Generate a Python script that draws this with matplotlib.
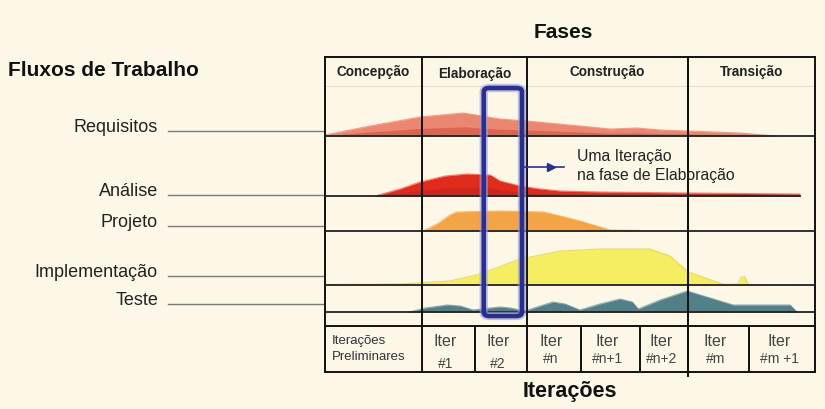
import matplotlib
matplotlib.use("Agg")
import matplotlib.pyplot as plt
from matplotlib.patches import FancyBboxPatch

plt.rcParams["font.family"] = ["Liberation Sans", "DejaVu Sans"]

BG = "#fcf7e6"

# timeline in percent of the project (0 = start, 100 = end)
phases = ["Concepção", "Elaboração", "Construção", "Transição"]
phase_edges = [0, 19.8, 41.2, 74.1, 100]

iter_labels = [("Iter", "#1"), ("Iter", "#2"), ("Iter", "#n"), ("Iter", "#n+1"),
               ("Iter", "#n+2"), ("Iter", "#m"), ("Iter", "#m +1")]
iter_edges = [19.8, 30.6, 41.2, 52.2, 64.3, 74.1, 86.5, 100]

workflows = ["Requisitos", "Análise", "Projeto", "Implementação", "Teste"]
label_y = [132, 196, 227, 277, 305]
baseline_y = [137, 197, 232, 286, 313]
line_end = [100, 97, 100, 100, 100]
colors = ["#eb8670", "#e02c1c", "#f2a447", "#f6ee62", "#52808a"]
under_colors = ["#d4503c", "#c8201a", "#f2a447", "#f6ee62", "#52808a"]
edge_colors = ["#c4533f", "#b81d12", "#d8832c", "#c8b83e", "#3c5f66"]

req_t = [0, 9.2, 19.4, 28.2, 35.7, 41.2, 52.0, 58.2, 63.7, 68.4, 74.1, 84.7, 92.2]
req_h = [1, 10, 19, 23, 17, 15, 10, 7, 8, 6, 5, 3, 0]

ana_t = [10.2, 15.3, 19.4, 24.5, 29.0, 33.7, 35.7, 39.8, 43.9, 48.0, 56.1, 74.1, 96.9]
ana_h = [0, 7, 14, 20, 22, 21, 15, 10, 7, 5, 4, 3, 2]

proj_t = [20.0, 22.9, 25.5, 26.9, 35.7, 44.5, 48.0, 52.0, 56.1, 58.2, 64.3]
proj_h = [0, 7, 16, 19, 20, 19, 15, 10, 4, 1, 0.5]

impl_t = [0, 15.3, 25.5, 31.6, 39.8, 48.0, 56.1, 66.3, 70.4, 74.1, 80.0, 81.6,
          84.3, 84.9, 85.7, 86.3, 87.8]
impl_h = [0.5, 1, 4, 11, 26, 34, 36, 36, 29, 13, 3, 0.5, 1, 8, 8, 1, 0]

test_t = [17.3, 20.4, 24.9, 27.6, 30.2, 33.7, 35.7, 37.8, 40.8, 43.9, 46.5, 49.0,
          52.0, 56.1, 60.2, 62.7, 63.9, 68.4, 73.9, 78.6, 83.3, 94.9, 96.3]
test_h = [0, 4, 7, 6, 2, 4, 5, 4, 1, 6, 10, 8, 2, 8, 13, 10, 3, 12, 21, 14, 7, 7, 0]

profiles = [(req_t, req_h), (ana_t, ana_h), (proj_t, proj_h),
            (impl_t, impl_h), (test_t, test_h)]

fig = plt.figure(figsize=(8.25, 4.1), dpi=100, facecolor=BG)

# full-figure axes for labels (pixel coordinates)
ax = fig.add_axes([0, 0, 1, 1])
ax.set_xlim(0, 825)
ax.set_ylim(410, 0)
ax.axis("off")

ax.text(8, 71, "Fluxos de Trabalho", fontsize=15, fontweight="bold",
        va="center", ha="left", color="#111111")
for name, y in zip(workflows, label_y):
    ax.text(158, y - 4, name, fontsize=13, ha="right", va="center", color="#222222")
    ax.plot([168, 325], [y, y], color="#7a7a7a", lw=1)

ax.text(563, 32, "Fases", fontsize=15, fontweight="bold", ha="center", va="center",
        color="#111111")
ax.text(570, 392, "Iterações", fontsize=15.5, fontweight="bold", ha="center",
        va="center", color="#111111")

# table axes: x = percent of project, y = figure pixels from top
top, bottom = 58, 373
tab = fig.add_axes([325 / 825, (410 - bottom) / 410, 490 / 825, (bottom - top) / 410])
tab.set_xlim(0, 100)
tab.set_ylim(bottom, top)
tab.set_facecolor(BG)
for s in tab.spines.values():
    s.set_color("#111111")
    s.set_linewidth(1.4)
tab.set_xticks([])
tab.set_yticks([])

# humps
for (t, h), base, c, uc, ec, end in zip(profiles, baseline_y, colors, under_colors,
                                        edge_colors, line_end):
    tops = [base - v for v in h]
    lower = [base - 0.4 * v for v in h]
    tab.fill_between(t, tops, base, color=c, lw=0, zorder=2)
    tab.fill_between(t, lower, base, color=uc, lw=0, alpha=0.6, zorder=2)
    tab.plot(t, tops, color=ec, lw=0.8, alpha=0.5, zorder=2)
    tab.plot([0, end], [base, base], color="#222222", lw=1.3, zorder=3)

# phase dividers and header
for x in phase_edges[1:-1]:
    tab.plot([x, x], [top, 327], color="#111111", lw=1.4, zorder=4)
tab.plot([0, 100], [87, 87], color="#e6dfc8", lw=0.8, zorder=1)
head_y = [72, 74, 72, 72]
for name, a, b, y in zip(phases, phase_edges[:-1], phase_edges[1:], head_y):
    tab.text((a + b) / 2, y, name, fontsize=9.8, fontweight="bold", ha="center",
             va="center", color="#222222", zorder=5)

# iterations row
tab.plot([0, 100], [327, 327], color="#111111", lw=1.4, zorder=4)
for x in iter_edges[:-1]:
    tab.plot([x, x], [327, bottom], color="#111111", lw=1.4, zorder=4)
tab.plot([74.1, 74.1], [top, bottom + 4], color="#111111", lw=1.4, zorder=4,
         clip_on=False)
tab.text(1.4, 341, "Iterações", fontsize=9.5, ha="left", va="center", color="#333333")
tab.text(1.4, 357, "Preliminares", fontsize=9.5, ha="left", va="center", color="#333333")
for i, ((l1, l2), a, b) in enumerate(zip(iter_labels, iter_edges[:-1], iter_edges[1:])):
    cx = (a + b) / 2 - 0.6
    y2 = 364 if i < 2 else 359
    tab.text(cx, 342, l1, fontsize=11.5, ha="center", va="center", color="#444444")
    tab.text(cx, y2, l2, fontsize=10, ha="center", va="center", color="#444444")

# highlighted iteration
rect = FancyBboxPatch((32.4, 89), 7.8, 228, boxstyle="round,pad=0,rounding_size=1.2",
                      fill=False, ec="#9aa0e0", lw=6, zorder=6, alpha=0.6,
                      mutation_aspect=3)
tab.add_patch(rect)
rect2 = FancyBboxPatch((32.4, 89), 7.8, 228, boxstyle="round,pad=0,rounding_size=1.2",
                       fill=False, ec="#2a2f8e", lw=3.3, zorder=7, mutation_aspect=3)
tab.add_patch(rect2)

tab.plot([40.4, 48.8], [168, 168], color="#2a2f8e", lw=1.2, zorder=7)
tab.plot([46.2], [168], marker=">", ms=6, color="#2a2f8e", zorder=7)
tab.text(51.5, 157, "Uma Iteração", fontsize=11.3, ha="left", va="center",
         color="#222222", zorder=8)
tab.text(51.5, 176, "na fase de Elaboração", fontsize=11.3, ha="left", va="center",
         color="#222222", zorder=8)

fig.savefig("out.png", dpi=100, facecolor=BG)
